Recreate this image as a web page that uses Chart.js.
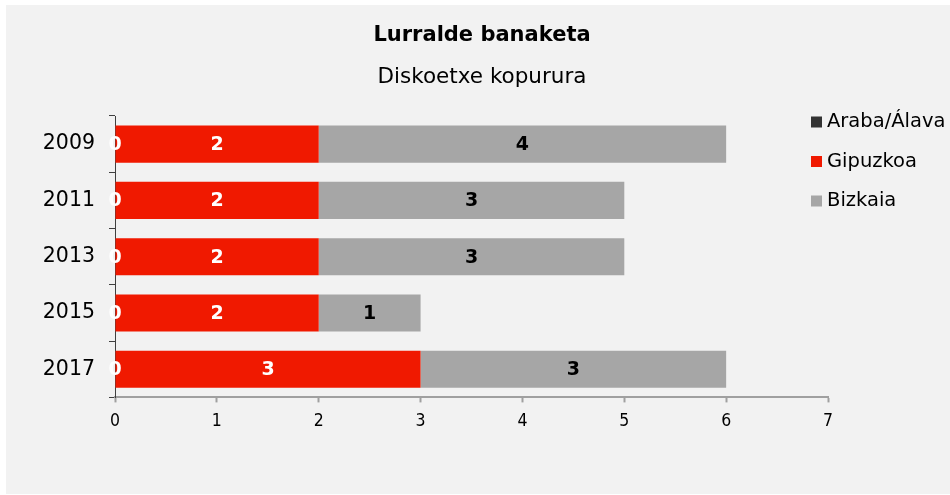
<!DOCTYPE html>
<html>
<head>
<meta charset="utf-8">
<script src="https://cdn.jsdelivr.net/npm/chart.js@4/dist/chart.umd.min.js"></script>
<style>
    body { margin: 0; background: #ffffff; }
    #wrap { position: absolute; left: 6px; top: 5px; width: 944px; height: 489px; background: #f2f2f2; }
</style>
</head>
<body>
<div id="wrap"><canvas id="chart"></canvas></div>
<script>
// Chart data
const years = ["2009", "2011", "2013", "2015", "2017"];
const seriesNames = ["Araba/Álava", "Gipuzkoa", "Bizkaia"];
const araba = [0, 0, 0, 0, 0];
const gipuzkoa = [2, 2, 2, 2, 3];
const bizkaia = [4, 3, 3, 1, 3];
const xTicks = [0, 1, 2, 3, 4, 5, 6, 7];

const colors = ["#333333", "#f01900", "#a6a6a6"];
const labelColors = ["#ffffff", "#ffffff", "#000000"];
const font = "'DejaVu Sans', Verdana, sans-serif";

// Value labels in the middle of each bar piece
const barLabels = {
    id: "barLabels",
    afterDatasetsDraw(chart) {
        const ctx = chart.ctx;
        ctx.save();
        ctx.font = "bold 19px " + font;
        ctx.textAlign = "center";
        ctx.textBaseline = "middle";
        chart.data.datasets.forEach(function (ds, i) {
            const meta = chart.getDatasetMeta(i);
            meta.data.forEach(function (bar, j) {
                ctx.fillStyle = labelColors[i];
                ctx.fillText(String(ds.data[j]), (bar.x + bar.base) / 2, bar.y + 1);
            });
        });
        ctx.restore();
    }
};

// Legend drawn at the right, next to the plot
const sideLegend = {
    id: "sideLegend",
    afterDraw(chart) {
        const ctx = chart.ctx;
        ctx.save();
        ctx.font = "19.5px " + font;
        ctx.textBaseline = "middle";
        ctx.textAlign = "left";
        chart.data.datasets.forEach(function (ds, i) {
            const y = 117 + i * 39.5;
            ctx.fillStyle = ds.backgroundColor;
            ctx.fillRect(805, y - 5.5, 11, 11);
            ctx.fillStyle = "#000000";
            ctx.fillText(ds.label, 821, y);
        });
        ctx.restore();
    }
};

const ctx = document.getElementById("chart").getContext("2d");
const chart = new Chart(ctx, {
    type: "bar",
    data: {
        labels: years,
        datasets: [
            { label: seriesNames[0], data: araba, backgroundColor: colors[0] },
            { label: seriesNames[1], data: gipuzkoa, backgroundColor: colors[1] },
            { label: seriesNames[2], data: bizkaia, backgroundColor: colors[2] },
        ],
    },
    options: {
        indexAxis: "y",
        responsive: true,
        maintainAspectRatio: false,
        animation: false,
        datasets: {
            bar: { barPercentage: 0.66, categoryPercentage: 1 },
        },
        layout: {
            padding: { left: 8, right: 0, top: 0, bottom: 52.6 },
        },
        plugins: {
            legend: { display: false },
            tooltip: { enabled: false },
            title: {
                display: true,
                text: "Lurralde banaketa",
                color: "#000000",
                font: { family: font, size: 21, weight: "bold" },
                padding: { top: 18.4, bottom: 8 },
            },
            subtitle: {
                display: true,
                text: "Diskoetxe kopurura",
                color: "#000000",
                font: { family: font, size: 21.5 },
                padding: { top: 8.1, bottom: 25.5 },
            },
        },
        scales: {
            x: {
                stacked: true,
                min: 0,
                max: 7,
                afterBuildTicks: function (scale) {
                    scale.ticks = xTicks.map(function (v) { return { value: v }; });
                },
                afterFit: function (scale) {
                    scale.paddingRight = 122;
                },
                grid: {
                    drawOnChartArea: false,
                    drawTicks: true,
                    tickLength: 5,
                    tickColor: "#a0a0a0",
                    tickWidth: 2,
                },
                border: { color: "#a0a0a0", width: 2 },
                ticks: {
                    color: "#000000",
                    padding: 9,
                    font: { family: "'DejaVu Sans Condensed', 'DejaVu Sans', sans-serif", size: 17.5 },
                },
            },
            y: {
                stacked: true,
                afterFit: function (scale) {
                    scale.width = 101;
                },
                grid: {
                    drawOnChartArea: false,
                    drawTicks: true,
                    tickLength: 6,
                    tickColor: "#404040",
                },
                border: { color: "#404040", width: 1 },
                ticks: {
                    color: "#000000",
                    padding: 14,
                    font: { family: font, size: 20.5 },
                },
            },
        },
    },
    plugins: [barLabels, sideLegend],
});
</script>
</body>
</html>
